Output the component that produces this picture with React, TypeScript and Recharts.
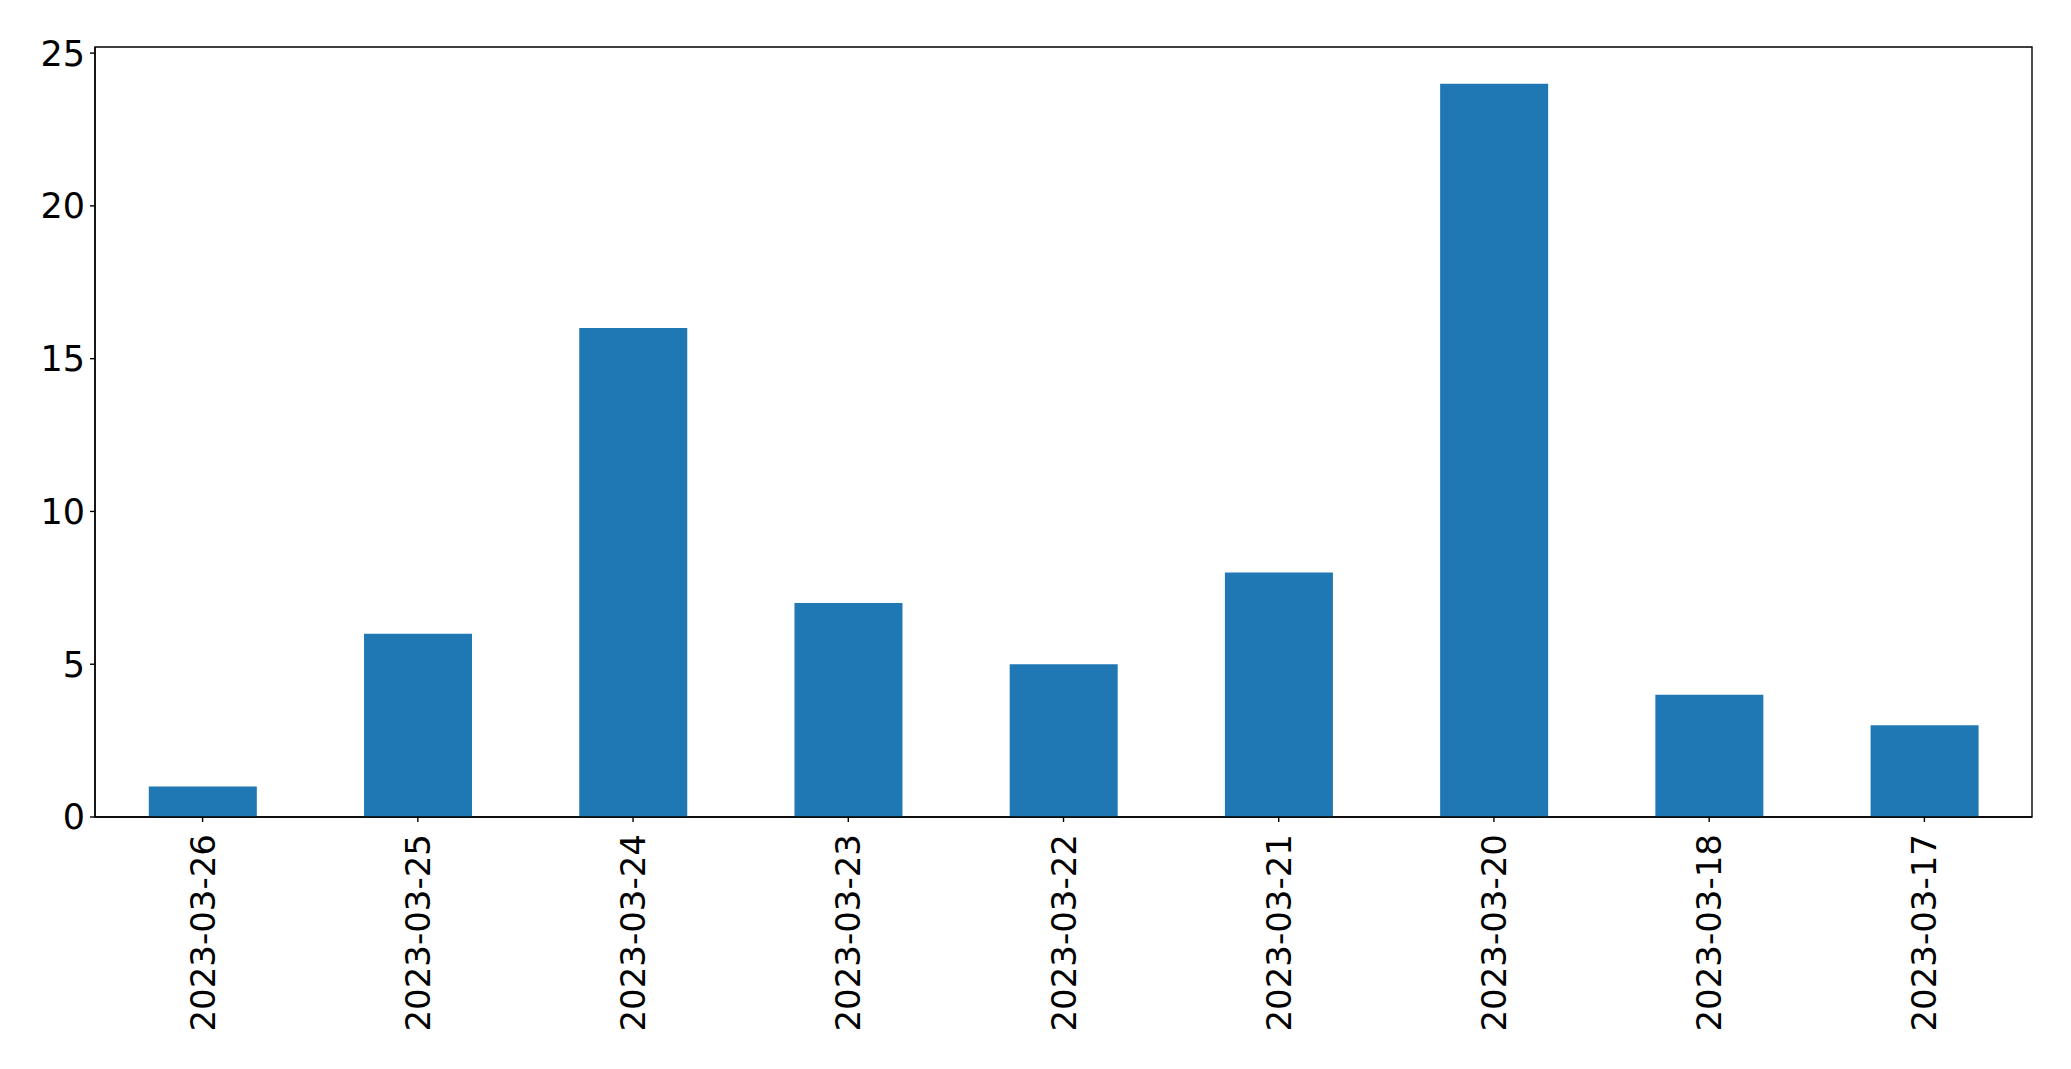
import { Bar, BarChart, ReferenceArea, XAxis, YAxis } from 'recharts';

const dates = [
  '2023-03-26',
  '2023-03-25',
  '2023-03-24',
  '2023-03-23',
  '2023-03-22',
  '2023-03-21',
  '2023-03-20',
  '2023-03-18',
  '2023-03-17',
];
const counts = [1, 6, 16, 7, 5, 8, 24, 4, 3];
const yTicks = [0, 5, 10, 15, 20, 25];
const yMax = 25.2;

const data = dates.map((d, i) => ({ date: d, count: counts[i] }));

const font = 'DejaVu Sans';

const DateTick = (props: any) => {
  const { x, y, payload } = props;
  return (
    <text
      x={x}
      y={y}
      transform={`rotate(-90, ${x}, ${y})`}
      textAnchor="end"
      dominantBaseline="central"
      fontFamily={font}
      fontSize={34}
      fill="#000"
    >
      {payload.value}
    </text>
  );
};

const App = () => {
  return (
    <div style={{ position: 'absolute', left: 0, top: 0, background: '#fff' }}>
      <BarChart
        width={2071}
        height={1069}
        data={data}
        margin={{ top: 47, right: 39, left: 0, bottom: 0 }}
        barCategoryGap="25%"
      >
        <XAxis
          dataKey="date"
          interval={0}
          height={252}
          tickSize={5}
          tickMargin={12}
          tick={<DateTick />}
          axisLine={{ stroke: '#000', strokeWidth: 1.4 }}
          tickLine={{ stroke: '#000', strokeWidth: 1.4 }}
        />
        <YAxis
          width={95}
          domain={[0, yMax]}
          ticks={yTicks}
          tickSize={5}
          tickMargin={5}
          tick={{ fontFamily: font, fontSize: 35, fill: '#000' }}
          axisLine={{ stroke: '#000', strokeWidth: 1.4 }}
          tickLine={{ stroke: '#000', strokeWidth: 1.4 }}
        />
        <Bar dataKey="count" fill="#1f77b4" isAnimationActive={false} />
        <ReferenceArea
          y1={0}
          y2={yMax}
          fill="none"
          fillOpacity={0}
          stroke="#000"
          strokeWidth={1.4}
        />
      </BarChart>
    </div>
  );
};

export default App;
